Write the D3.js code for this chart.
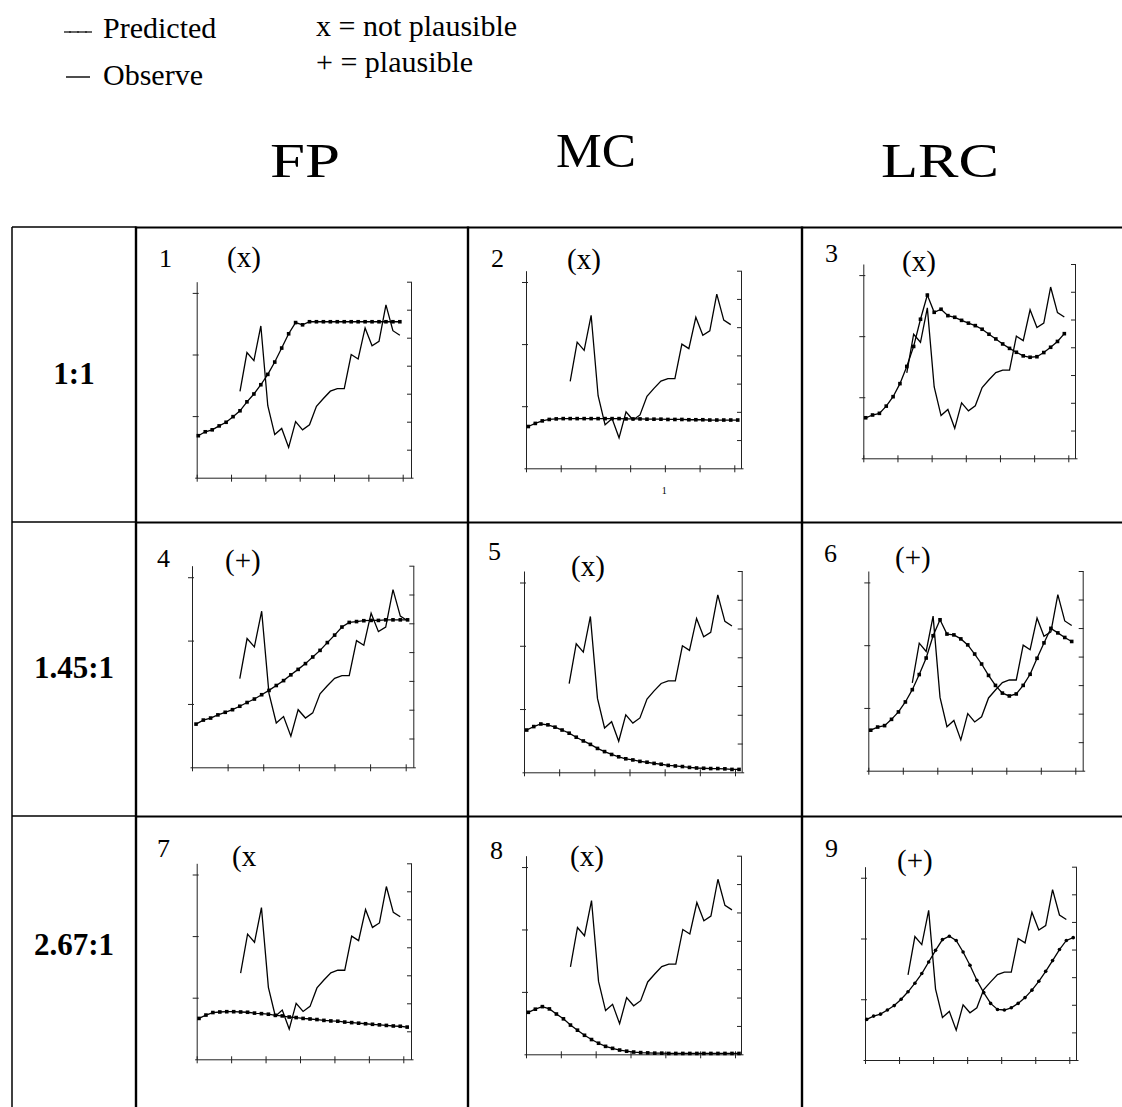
<!DOCTYPE html>
<html><head><meta charset="utf-8">
<script src="https://cdn.jsdelivr.net/npm/d3@7"></script>
<style>
body{margin:0;background:#fff}
svg{display:block}
text{font-family:"Liberation Serif","Times New Roman",serif;fill:#000}
</style>
</head><body>
<svg id="c" width="1122" height="1107"></svg>
<script>
// ---------- data ----------
const columns = ["FP", "MC", "LRC"];
const ratios = ["1:1", "1.45:1", "2.67:1"];
const panelIds = ["1","2","3","4","5","6","7","8","9"];
const verdicts = ["(x)","(x)","(x)","(+)","(x)","(+)","(x","(x)","(+)"];
const legendSeries = ["Predicted", "Observe"];
const legendKey = ["x = not plausible", "+ = plausible"];
const rightTicks = [1,2,3,4,5,6,7];
const leftTicks = [1,2,3];

// observed series (same in every panel), starts at time step 6
const obsStart = 6;
const observed = [3.08,4.47,4.18,5.42,2.57,1.54,1.76,1.08,2.00,1.71,1.89,2.55,
                  2.83,3.09,3.18,3.18,4.40,4.24,5.35,4.71,4.87,6.17,5.25,5.09];

// predicted series, time steps 0..n-1
const pred1 = [1.50,1.64,1.71,1.85,1.98,2.18,2.39,2.71,2.99,3.32,3.69,4.13,4.63,5.14,5.54,5.46,
               5.57,5.57,5.57,5.57,5.57,5.57,5.57,5.57,5.57,5.57,5.57,5.57,5.57,5.57];
const pred2 = [1.48,1.59,1.68,1.73,1.75,1.76,1.76,1.76,1.76,1.76,1.76,1.76,1.76,1.76,1.75,1.75,
               1.75,1.74,1.74,1.74,1.73,1.73,1.73,1.72,1.72,1.72,1.71,1.71,1.71,1.71,1.71];
const pred3 = [1.46,1.56,1.62,1.88,2.22,2.69,3.31,4.03,5.01,5.88,5.26,5.37,5.14,5.08,4.97,4.87,
               4.78,4.65,4.47,4.30,4.12,3.96,3.82,3.69,3.64,3.66,3.81,4.00,4.21,4.49];
const pred4 = [1.50,1.64,1.71,1.82,1.91,2.00,2.12,2.25,2.37,2.52,2.67,2.84,3.01,3.21,3.40,3.60,
               3.83,4.06,4.33,4.59,4.87,5.03,5.06,5.09,5.10,5.10,5.12,5.12,5.12,5.12];
const pred5 = [1.47,1.59,1.68,1.65,1.57,1.47,1.36,1.22,1.09,0.97,0.83,0.72,0.62,0.54,0.47,0.43,
               0.38,0.35,0.31,0.28,0.24,0.22,0.20,0.17,0.15,0.14,0.13,0.13,0.12,0.10,0.10];
const pred6 = [1.42,1.53,1.58,1.80,2.06,2.41,2.84,3.37,3.95,4.73,5.29,4.79,4.76,4.62,4.41,4.09,
               3.74,3.34,2.99,2.72,2.62,2.69,2.99,3.38,3.94,4.48,4.99,4.83,4.67,4.53];
const pred7 = [1.46,1.58,1.67,1.69,1.70,1.70,1.69,1.68,1.65,1.63,1.61,1.57,1.55,1.51,1.49,1.46,
               1.44,1.42,1.39,1.37,1.36,1.33,1.31,1.29,1.27,1.25,1.23,1.21,1.19,1.18,1.15];
const pred8 = [1.48,1.59,1.68,1.60,1.42,1.25,1.03,0.85,0.67,0.52,0.39,0.28,0.21,0.15,0.11,0.08,
               0.06,0.05,0.04,0.04,0.03,0.03,0.03,0.03,0.03,0.03,0.03,0.03,0.03,0.03,0.03];
const pred9 = [1.47,1.59,1.66,1.81,1.97,2.20,2.47,2.78,3.13,3.55,3.97,4.36,4.48,4.33,3.91,3.43,
               2.89,2.44,2.05,1.83,1.81,1.89,2.05,2.26,2.53,2.85,3.21,3.60,4.00,4.33,4.43];
const predicted = [pred1,pred2,pred3,pred4,pred5,pred6,pred7,pred8,pred9];

// ---------- layout ----------
const W = 1122, H = 1107;
const SERIF = '"Liberation Serif", "Times New Roman", "DejaVu Serif", serif';
const colX = [12, 136, 468, 802];
const rowY = [227, 522, 816];
// plot frames: L/R axis x, T/B top & bottom, E last x tick, s0/s1 time step at L and E
const frames = [
  {L:196.7,T:281.7,R:411,  B:477.7, E:402.7, s0:-0.23,s1:29.41},
  {L:526,  T:270.7,R:741,  B:468.3, E:734.3, s0:-0.33,s1:29.51},
  {L:863.3,T:264,  R:1075, B:458.3, E:1068.3,s0:-0.35,s1:29.58},
  {L:192,  T:565.7,R:413.3,B:767.3, E:405.7, s0:-0.55,s1:28.74},
  {L:524,  T:571,  R:741.7,B:772.3, E:735,   s0:-0.38,s1:29.43},
  {L:868.3,T:571,  R:1082.7,B:770.7,E:1075.3,s0:-0.35,s1:29.52},
  {L:196.7,T:863.3,R:411,  B:1059.3,E:403.3, s0:-0.33,s1:29.44},
  {L:526,  T:855.7,R:741,  B:1054.3,E:735,   s0:-0.33,s1:29.43},
  {L:865,  T:866.7,R:1076, B:1060,  E:1069.3,s0:-0.25,s1:29.43}
];
// label offsets inside each cell: [numDx, numDy, verdictDx, verdictDy]
const labelOff = [
  [23,40,91,40],[23,40,99,42],[23,35,100,44],
  [21,45,89,48],[20,38,103,54],[22,40,93,45],
  [21,41,96,50],[22,43,102,50],[23,41,95,54]
];

const svg = d3.select("#c");
svg.append("rect").attr("width",W).attr("height",H).attr("fill","#fff");
const txt = (sel)=>sel.append("text").attr("font-family",SERIF).attr("fill","#000");

// ---------- legend ----------
const lg = svg.append("g");
lg.append("line").attr("x1",64).attr("x2",92).attr("y1",32).attr("y2",32)
  .attr("stroke","#000").attr("stroke-width",1.2);
[70,78,86].forEach(x=>lg.append("rect").attr("x",x-1).attr("y",31).attr("width",2).attr("height",2).attr("fill","#333"));
lg.append("line").attr("x1",66).attr("x2",90).attr("y1",77).attr("y2",77)
  .attr("stroke","#000").attr("stroke-width",1.4);
txt(lg).attr("x",103).attr("y",38).attr("font-size",30).text(legendSeries[0]);
txt(lg).attr("x",103).attr("y",85).attr("font-size",30).text(legendSeries[1]);
txt(lg).attr("x",316).attr("y",36).attr("font-size",30).text(legendKey[0]);
txt(lg).attr("x",316).attr("y",72).attr("font-size",30).text(legendKey[1]);

// ---------- column headers ----------
const headX = [305, 596, 940], headY = [177, 167, 177], headW = [70, 80, 118];
columns.forEach((c,i)=>{
  txt(svg).attr("x",headX[i]-headW[i]/2).attr("y",headY[i])
    .attr("font-size",49).attr("textLength",headW[i]).attr("lengthAdjust","spacingAndGlyphs").text(c);
});

// ---------- table ----------
const tg = svg.append("g").attr("stroke","#000").attr("fill","none");
rowY.forEach(y=>{
  tg.append("line").attr("x1",colX[0]).attr("x2",colX[1]).attr("y1",y).attr("y2",y).attr("stroke-width",1.5);
  tg.append("line").attr("x1",colX[1]).attr("x2",W).attr("y1",y+0.5).attr("y2",y+0.5).attr("stroke-width",2.2);
});
tg.append("line").attr("x1",colX[0]).attr("x2",colX[0]).attr("y1",rowY[0]).attr("y2",H).attr("stroke-width",1.5);
colX.slice(1).forEach(x=>{
  tg.append("line").attr("x1",x).attr("x2",x).attr("y1",rowY[0]-0.6).attr("y2",H).attr("stroke-width",2.4);
});

// row labels
const rowLabelY = [384, 678, 955];
ratios.forEach((r,i)=>{
  txt(svg).attr("x",(colX[0]+colX[1])/2).attr("y",rowLabelY[i])
    .attr("text-anchor","middle").attr("font-size",31).attr("font-weight","bold").text(r);
});

// ---------- panels ----------
predicted.forEach((pred,p)=>{
  const f = frames[p];
  const col = p % 3, row = Math.floor(p/3);
  const cx = colX[col+1], cy = rowY[row];
  const g = svg.append("g");

  // labels
  txt(g).attr("x",cx+labelOff[p][0]).attr("y",cy+labelOff[p][1])
    .attr("font-size",26).text(panelIds[p]);
  txt(g).attr("x",cx+labelOff[p][2]).attr("y",cy+labelOff[p][3])
    .attr("font-size",29).text(verdicts[p]);

  // scales
  const x = d3.scaleLinear().domain([f.s0,f.s1]).range([f.L,f.E]);
  const xTicks = d3.range(7).map(k=>f.s0 + k*(f.s1-f.s0)/6);
  const xAxisScale = x.copy().domain([x.invert(f.L-2), x.invert(f.R+2)]).range([f.L-2,f.R+2]);
  const yR = d3.scaleLinear().domain([0,7]).range([f.B,f.T]);
  const yL = d3.scaleLinear().domain([0,7/2.2]).range([f.B,f.T]);

  const axStyle = sel=>{
    sel.selectAll("path.domain").attr("stroke","#222").attr("stroke-width",1);
    sel.selectAll(".tick line").attr("stroke","#222").attr("stroke-width",1);
    sel.selectAll(".tick text").remove();
  };
  // left axis
  const gl = g.append("g").attr("transform",`translate(${f.L},0)`)
    .call(d3.axisLeft(yL).tickValues(leftTicks).tickSizeInner(4).tickSizeOuter(0).tickFormat(""));
  gl.selectAll(".tick line").attr("x1",2);
  axStyle(gl);
  // right axis
  const gr = g.append("g").attr("transform",`translate(${f.R},0)`)
    .call(d3.axisLeft(yR).tickValues(rightTicks).tickSizeInner(4).tickSizeOuter(0).tickFormat(""));
  gr.selectAll(".tick line").attr("x1",1);
  axStyle(gr);
  // bottom axis
  const gb = g.append("g").attr("transform",`translate(0,${f.B})`)
    .call(d3.axisBottom(xAxisScale).tickValues(xTicks).tickSizeInner(4).tickSizeOuter(0).tickFormat(""));
  gb.selectAll(".tick line").attr("y1",-3);
  axStyle(gb);

  // observed
  const line = d3.line().x(d=>x(d.t)).y(d=>yR(d.v));
  const obs = observed.map((v,i)=>({t:i+obsStart, v}));
  g.append("path").attr("d",line(obs)).attr("fill","none").attr("stroke","#000").attr("stroke-width",1.3);

  // predicted
  const pr = pred.map((v,i)=>({t:i, v}));
  g.append("path").attr("d",line(pr)).attr("fill","none").attr("stroke","#000").attr("stroke-width",1.3);
  if (p === 8) {
    g.selectAll("circle.m").data(pr).join("circle").attr("class","m")
      .attr("cx",d=>x(d.t)).attr("cy",d=>yR(d.v)).attr("r",1.8).attr("fill","#000");
  } else {
    g.selectAll("rect.m").data(pr).join("rect").attr("class","m")
      .attr("x",d=>x(d.t)-1.8).attr("y",d=>yR(d.v)-1.8).attr("width",3.6).attr("height",3.6).attr("fill","#000");
  }
  if (p === 1) {
    txt(g).attr("x",x(xTicks[4])-3).attr("y",f.B+26).attr("font-size",10).text("1");
  }
});
</script>
</body></html>
